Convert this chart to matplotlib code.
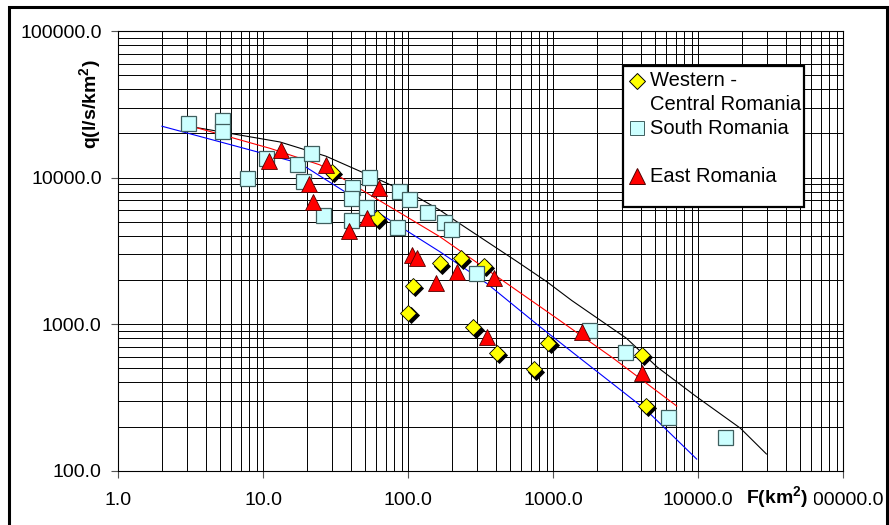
import matplotlib
matplotlib.use("Agg")
import matplotlib.pyplot as plt
from matplotlib import rcParams
from matplotlib.patches import Rectangle
from matplotlib.lines import Line2D
import matplotlib.transforms as mtransforms
from matplotlib.ticker import FixedLocator, NullFormatter

rcParams["font.family"] = ["Liberation Sans", "DejaVu Sans"]
rcParams["mathtext.fontset"] = "custom"
rcParams["mathtext.rm"] = "Liberation Sans"
rcParams["mathtext.bf"] = "Liberation Sans:bold"

W, H = 889, 525

# --- data (F km2, q l/s/km2) ---
west_F = [29.6, 60.6, 165, 231, 334, 108, 100, 281, 407, 924, 736, 4070, 4360]
west_q = [10960, 5270, 2600, 2810, 2490, 1820, 1200, 951, 638, 747, 492, 615, 276]

south_F = [3.03, 5.19, 5.19, 7.76, 10.5, 17.0, 21.2, 18.9, 25.7, 53.8, 41.1, 40.1,
           51.1, 40.1, 86.7, 101.6, 83.2, 135, 176, 197, 293, 1771, 3120, 6210, 15280]
south_q = [23500, 24700, 20800, 9880, 13500, 12300, 14800, 9470, 5550, 10100, 8580, 7280,
           6260, 5130, 8130, 7100, 4620, 5820, 5000, 4430, 2220, 912, 648, 231, 171]

east_F = [13.2, 10.9, 26.9, 20.8, 21.9, 63.1, 52.1, 39.2, 105.5, 115, 155, 216, 390, 351, 1570, 4070]
east_q = [15400, 13000, 12200, 8990, 6770, 8440, 5270, 4340, 2960, 2810, 1920, 2280, 2050, 813, 888, 462]

# envelope / regression curves
black_F = [3.4, 13, 27, 64, 114, 165, 216, 560, 900, 1340, 3200, 5200, 9700, 19500, 29500]
black_q = [22000, 17500, 14000, 9600, 7400, 6000, 5000, 2680, 1950, 1450, 800, 510, 320, 195, 130]

red_F = [3.4, 11.2, 24.6, 165, 949, 2590, 7100]
red_q = [22000, 15800, 12200, 3950, 1180, 585, 276]

blue_F = [2.0, 17.9, 165, 347, 809, 1530, 4360, 9750]
blue_q = [22400, 12500, 3120, 1900, 960, 585, 260, 120]

x_ticks = [1, 10, 100, 1000, 10000, 100000]
y_ticks = [100, 1000, 10000, 100000]


def fx(px):
    return px / W


def fy(py):
    return 1 - py / H


fig = plt.figure(figsize=(W / 100, H / 100), dpi=100)
ax = fig.add_axes([fx(118.3), fy(470.7), fx(843.3) - fx(118.3), fy(31) - fy(470.7)])
ax.set_xscale("log")
ax.set_yscale("log")
ax.set_xlim(1, 100000)
ax.set_ylim(100, 100000)

# grid: every major and minor line
ax.xaxis.set_major_locator(FixedLocator(x_ticks))
ax.yaxis.set_major_locator(FixedLocator(y_ticks))
ax.set_xticklabels([f"{v:.1f}" for v in x_ticks])
ax.set_yticklabels([f"{v:.1f}" for v in y_ticks])
ax.xaxis.set_minor_formatter(NullFormatter())
ax.yaxis.set_minor_formatter(NullFormatter())
ax.grid(True, which="both", color="black", lw=0.7)
ax.set_axisbelow(True)
ax.tick_params(which="minor", length=0)
ax.tick_params(which="major", length=5, width=0.8, color="#555555", labelsize=14)
ax.tick_params(axis="y", pad=7)
ax.tick_params(axis="x", pad=10)
for s in ax.spines.values():
    s.set_linewidth(0.8)

# curves
ax.plot(black_F, black_q, color="black", lw=0.8, zorder=2)
ax.plot(red_F, red_q, color="red", lw=0.8, zorder=2)
ax.plot(blue_F, blue_q, color="blue", lw=0.8, zorder=2)

# markers
shadow = mtransforms.offset_copy(ax.transData, fig=fig, x=1.6, y=-1.6, units="points")
ax.plot(west_F, west_q, ls="none", marker="D", ms=8.3, mfc="black", mec="black",
        mew=0.6, transform=shadow, zorder=3)
ax.plot(west_F, west_q, ls="none", marker="D", ms=8.3, mfc="#FFFF00", mec="black",
        mew=0.6, zorder=3.1)
ax.plot(south_F, south_q, ls="none", marker="s", ms=10.8, mfc="#CCFFFF", mec="#3F5F5F",
        mew=0.9, zorder=3.2)
ax.plot(east_F, east_q, ls="none", marker="^", ms=11.3, mfc="#FF0000", mec="#500000",
        mew=0.6, zorder=3.3)

# axis titles
fig.text(fx(91), fy(104), r"q(l/s/km$^{\mathbf{2}}$)", rotation=90, fontsize=14,
         fontweight="bold", ha="center", va="center")
fig.text(fx(777), fy(498), r"F(km$^{\mathbf{2}}$)", fontsize=14, fontweight="bold",
         ha="center", va="center", zorder=5,
         bbox=dict(facecolor="white", edgecolor="none", pad=4.5))

# legend box drawn by hand
fig.patches.append(Rectangle((fx(623.3), fy(206.7)), fx(804) - fx(623.3), fy(66) - fy(206.7),
                             transform=fig.transFigure, facecolor="white",
                             edgecolor="black", lw=1.6, zorder=4))
leg_items = [
    ("D", 8.5, "#FFFF00", "black", 81, "Western -"),
    ("s", 10, "#CCFFFF", "#3F5F5F", 128, "South Romania"),
    ("^", 11, "#FF0000", "#500000", 176, "East Romania"),
]
for mk, ms, fc, ec, py, label in leg_items:
    fig.add_artist(Line2D([fx(637)], [fy(py)], ls="none", marker=mk, ms=ms, mfc=fc,
                          mec=ec, mew=0.7, transform=fig.transFigure, zorder=5))
    fig.text(fx(650), fy(py), label, fontsize=14.5, ha="left", va="center", zorder=5)
fig.text(fx(650), fy(105), "Central Romania", fontsize=14.5, ha="left", va="center", zorder=5)

# outer frame
fig.patches.append(Rectangle((fx(8.5), fy(540)), fx(887) - fx(8.5), fy(6.5) - fy(540),
                             transform=fig.transFigure, facecolor="none",
                             edgecolor="black", lw=2.2, zorder=6))

fig.savefig("out.png", dpi=100)
